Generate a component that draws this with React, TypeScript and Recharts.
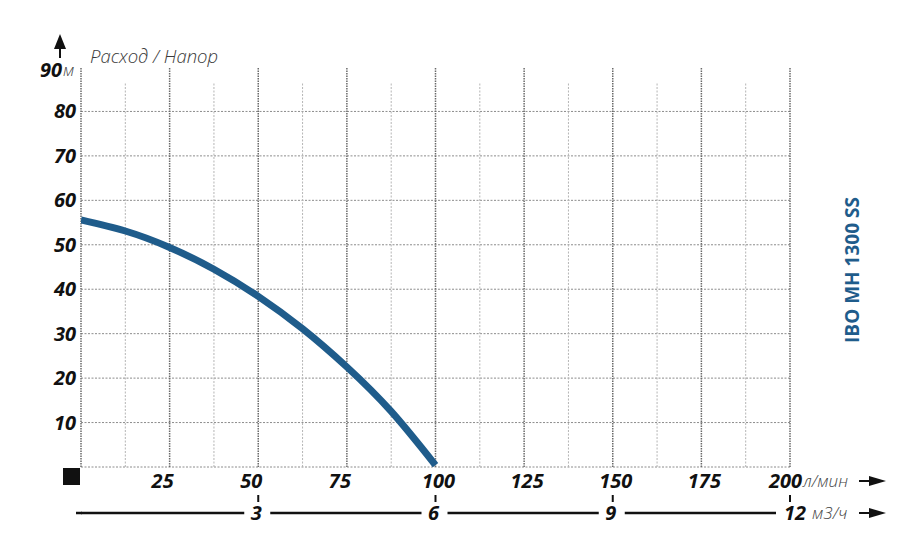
import { Line, LineChart, ReferenceLine, XAxis, YAxis } from "recharts";

// pump curve: flow (л/мин) -> head (м)
const flow = [0, 12.5, 25, 37.5, 50, 62.5, 75, 87.5, 100];
const head = [55.6, 53.1, 49.4, 44.5, 38.4, 31.1, 22.5, 12.5, 0.4];

const flowTicks = [25, 50, 75, 100, 125, 150, 175, 200];
const m3Ticks = [3, 6, 9, 12];
const headTicks = [10, 20, 30, 40, 50, 60, 70, 80, 90];
const gridMajor = [0, 25, 50, 75, 100, 125, 150, 175, 200];
const gridMinor = [12.5, 37.5, 62.5, 87.5, 112.5, 137.5, 162.5, 187.5];
const gridRows = [0, 10, 20, 30, 40, 50, 60, 70, 80];

const data = flow.map((f, i) => ({ flow: f, m3: f * 0.06, head: head[i] }));

const BLUE = "#1f5c8b";
const TICK_FONT = {
  fontFamily: "'Open Sans', sans-serif",
  fontWeight: 700,
  fontStyle: "italic" as const,
  fontSize: 20,
  fill: "#111",
};
const UNIT_FONT = {
  fontFamily: "'Open Sans', sans-serif",
  fontWeight: 300,
  fontStyle: "italic" as const,
  fontSize: 17,
  fill: "#444",
};

function FlowTick({ x, y, payload }: any) {
  const v = payload.value;
  const s = String(v);
  if (v === 200) {
    return (
      <g>
        <text x={x + 12} y={y + 21} textAnchor="end" {...TICK_FONT}>
          {s}
        </text>
        <text x={x + 13} y={y + 20} {...UNIT_FONT}>
          л/мин
        </text>
      </g>
    );
  }
  const dx = s.length === 2 ? -7 : 3;
  return (
    <text x={x + dx} y={y + 21} textAnchor="middle" {...TICK_FONT}>
      {s}
    </text>
  );
}

function M3Tick({ x, y, payload }: any) {
  const v = payload.value;
  const last = v === 12;
  return (
    <g>
      <line x1={x} x2={x} y1={y - 18} y2={y - 11} stroke="#111" strokeWidth={2} />
      <rect x={x - 14} y={y - 10} width={last ? 80 : 26} height={20} fill="#fff" />
      <text x={last ? x + 5 : x - 2} y={y + 7} textAnchor="middle" {...TICK_FONT}>
        {v}
      </text>
      {last && (
        <text x={x + 22} y={y + 6} {...UNIT_FONT}>
          м3/ч
        </text>
      )}
    </g>
  );
}

function HeadTick({ x, y, payload }: any) {
  const v = payload.value;
  if (v === 90) {
    return (
      <g>
        <text x={x - 19} y={y + 10} textAnchor="end" {...TICK_FONT}>
          90
        </text>
        <text x={x - 18} y={y + 9} {...UNIT_FONT}>
          м
        </text>
      </g>
    );
  }
  return (
    <text x={x - 5} y={y + 7} textAnchor="end" {...TICK_FONT}>
      {v}
    </text>
  );
}

export default function App() {
  return (
    <div style={{ position: "absolute", left: 0, top: 0, background: "#fff" }}>
      <LineChart
        width={915}
        height={536}
        data={data}
        margin={{ top: 67, right: 125, left: 21, bottom: 0 }}
      >
        <XAxis
          dataKey="flow"
          type="number"
          domain={[0, 200]}
          allowDataOverflow
          ticks={flowTicks}
          axisLine={false}
          tickLine={false}
          tickSize={0}
          tickMargin={0}
          height={46}
          tick={<FlowTick />}
          interval={0}
        />
        <XAxis
          xAxisId="m3"
          dataKey="m3"
          type="number"
          domain={[0, 12]}
          allowDataOverflow
          ticks={m3Ticks}
          axisLine={{ stroke: "#111", strokeWidth: 2.5 }}
          tickLine={false}
          tickSize={0}
          tickMargin={0}
          height={23}
          tick={<M3Tick />}
          interval={0}
        />
        <YAxis
          type="number"
          domain={[0, 90]}
          allowDataOverflow
          ticks={headTicks}
          axisLine={false}
          tickLine={false}
          tickSize={0}
          tickMargin={0}
          width={60}
          tick={<HeadTick />}
          interval={0}
        />
        {gridRows.map((v) => (
          <ReferenceLine
            key={"h" + v}
            y={v}
            stroke="#8c8c8c"
            strokeDasharray="2 1.5"
            strokeWidth={1}
          />
        ))}
        {gridMinor.map((v) => (
          <ReferenceLine
            key={"m" + v}
            segment={[
              { x: v, y: 0 },
              { x: v, y: 86.5 },
            ]}
            stroke="#b5b5b5"
            strokeDasharray="2 1.5"
            strokeWidth={1}
          />
        ))}
        {gridMajor.map((v) => (
          <ReferenceLine
            key={"M" + v}
            segment={[
              { x: v, y: 0 },
              { x: v, y: 90 },
            ]}
            stroke="#6a6a6a"
            strokeDasharray="1.5 1"
            strokeWidth={1.5}
          />
        ))}
        <Line
          dataKey="head"
          type="natural"
          stroke={BLUE}
          strokeWidth={7}
          dot={false}
          activeDot={false}
          isAnimationActive={false}
        />
        {/* decorations */}
        <polygon points="54,49 60,34 66,49" fill="#111" />
        <line x1={60} x2={60} y1={46} y2={58} stroke="#111" strokeWidth={2} />
        <rect x={63} y={468} width={17} height={17} fill="#111" />
        <line x1={859} x2={872} y1={481} y2={481} stroke="#111" strokeWidth={2} />
        <polygon points="869,476 886,481 869,486" fill="#111" />
        <line x1={859} x2={872} y1={513} y2={513} stroke="#111" strokeWidth={2} />
        <polygon points="869,508 886,513 869,518" fill="#111" />
        <line x1={76} x2={82} y1={513} y2={513} stroke="#111" strokeWidth={2.5} />
        <text
          x={90}
          y={63}
          fontFamily="'Open Sans', sans-serif"
          fontStyle="italic"
          fontWeight={300}
          fontSize={18.5}
          fill="#3a3a3a"
        >
          Расход / Напор
        </text>
        <text
          x={859}
          y={270}
          transform="rotate(-90 859 270)"
          textAnchor="middle"
          fontFamily="'Open Sans', sans-serif"
          fontWeight={700}
          fontSize={19}
          fill={BLUE}
        >
          IBO MH 1300 SS
        </text>
      </LineChart>
    </div>
  );
}
